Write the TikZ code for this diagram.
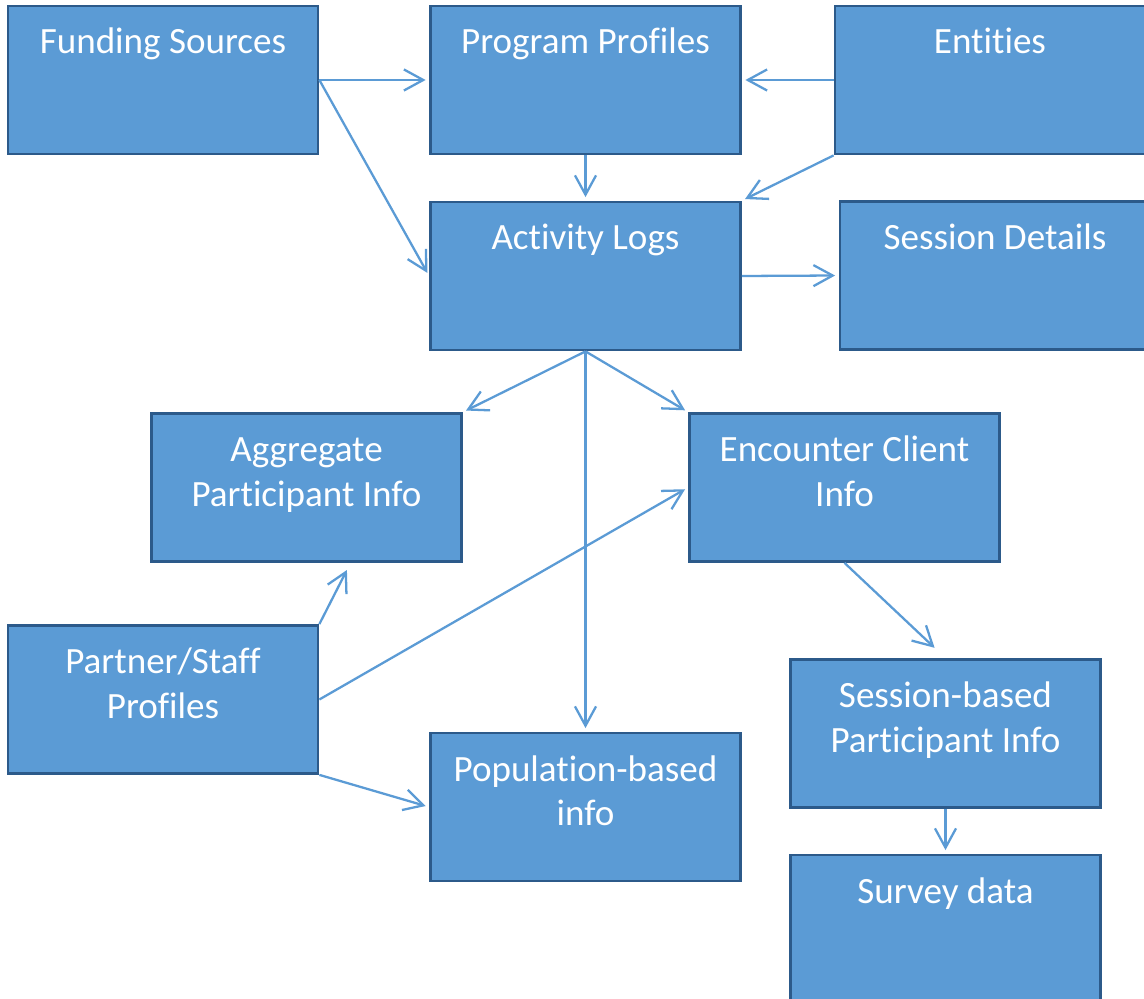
\documentclass[tikz,border=0pt]{standalone}
\usepackage{fontspec}
\setmainfont{Carlito}[Ligatures=NoCommon]
\usetikzlibrary{arrows.meta,calc}
\definecolor{boxfill}{RGB}{91,155,213}
\definecolor{boxline}{RGB}{44,90,138}
\tikzstyle{box}=[rectangle,fill=boxfill,draw=boxline,line width=1.6pt,inner sep=0pt,text=white,font=\fontsize{21.1}{25.5}\selectfont]
\tikzstyle{link}=[draw,line width=1.3pt,boxfill,shorten >=2pt,-{Straight Barb[length=11pt,width=12pt]}]
\newcommand{\boxtext}[1]{\parbox[c][2.96cm][t]{6.2cm}{\centering\rule{0pt}{0.96cm}#1}}

\begin{document}
\begin{tikzpicture}[x=0.02cm,y=-0.02cm]
	\useasboundingbox (0,0) rectangle (1144,999);
	% First we draw the boxes
	\foreach \pos/\name/\txt in {{(163,80)/fund/{Funding Sources}}, {(585.5,80)/prog/{Program Profiles}},
							{(990,80)/ent/{Entities}}, {(585.5,276)/act/{Activity Logs}},
							{(995,275.5)/sess/{Session Details}}, {(306.5,487.5)/agg/{Aggregate\\Participant Info}},
							{(844.5,487.5)/enc/{Encounter Client\\Info}}, {(163,699.5)/part/{Partner/Staff\\Profiles}},
							{(585.5,807)/pop/{Population-based\\info}}, {(945.5,733.5)/sbp/{Session-based\\Participant Info}},
							{(945.5,929)/surv/{Survey data}}}
	\node[box] (\name) at \pos {\boxtext{\txt}};

	% Connect boxes with arrows
	\foreach \source/ \dest in {fund.east/prog.west, fund.east/act.west, ent.west/prog.east,
							ent.south west/act.north east, act.east/sess.west, act.south/agg.north east,
							act.south/enc.north west, act.south/pop.north, part.east/enc.west,
							part.south east/pop.west, prog.south/act.north, sbp.south/surv.north}
	\path[link] (\source) -- (\dest);

	\path[link] (part.north east) -- ($(agg.south)+(42,4)$);
	\path[link, shorten >=0.3cm] (enc.south) -- (sbp.north);
\end{tikzpicture}
\end{document}
